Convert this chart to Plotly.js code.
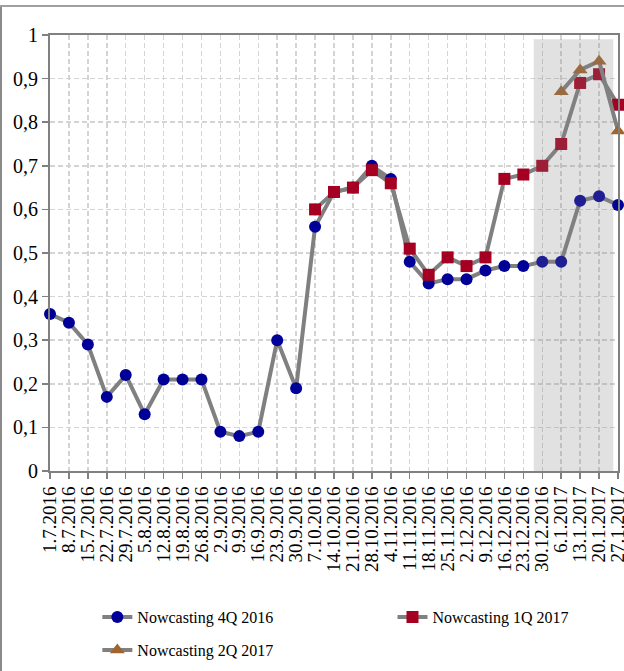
<!DOCTYPE html>
<html>
<head>
<meta charset="utf-8">
<script src="https://cdn.plot.ly/plotly-3.0.1.min.js"></script>
<style>
  html, body { margin: 0; padding: 0; background: #ffffff; }
  #wrap { position: relative; width: 624px; height: 671px; overflow: hidden; }
  #chart { position: absolute; left: 0; top: 0; width: 624px; height: 671px; }
  .frameL { position: absolute; left: 0; top: 5px; width: 2px; height: 666px; background: #8a8a8a; }
  .frameT { position: absolute; left: 0; top: 5px; width: 624px; height: 2px; background: #a0a0a0; }
</style>
</head>
<body>
<div id="wrap">
  <div id="chart"></div>
  <div class="frameL"></div>
  <div class="frameT"></div>
</div>
<script>
// ---- data ----
var dates = ["1.7.2016","8.7.2016","15.7.2016","22.7.2016","29.7.2016","5.8.2016","12.8.2016",
  "19.8.2016","26.8.2016","2.9.2016","9.9.2016","16.9.2016","23.9.2016","30.9.2016","7.10.2016",
  "14.10.2016","21.10.2016","28.10.2016","4.11.2016","11.11.2016","18.11.2016","25.11.2016",
  "2.12.2016","9.12.2016","16.12.2016","23.12.2016","30.12.2016","6.1.2017","13.1.2017",
  "20.1.2017","27.1.2017"];

var now4Q2016 = [0.36,0.34,0.29,0.17,0.22,0.13,0.21,0.21,0.21,0.09,0.08,0.09,0.30,0.19,0.56,
  0.64,0.65,0.70,0.67,0.48,0.43,0.44,0.44,0.46,0.47,0.47,0.48,0.48,0.62,0.63,0.61];

var dates1Q2017 = ["7.10.2016","14.10.2016","21.10.2016","28.10.2016","4.11.2016","11.11.2016",
  "18.11.2016","25.11.2016","2.12.2016","9.12.2016","16.12.2016","23.12.2016","30.12.2016",
  "6.1.2017","13.1.2017","20.1.2017","27.1.2017"];
var now1Q2017 = [0.60,0.64,0.65,0.69,0.66,0.51,0.45,0.49,0.47,0.49,0.67,0.68,0.70,0.75,0.89,0.91,0.84];

var dates2Q2017 = ["6.1.2017","13.1.2017","20.1.2017","27.1.2017"];
var now2Q2017 = [0.87,0.92,0.94,0.78];

var seriesNames = ["Nowcasting 4Q 2016","Nowcasting 1Q 2017","Nowcasting 2Q 2017"];
var yTicks = [0,0.1,0.2,0.3,0.4,0.5,0.6,0.7,0.8,0.9,1];

// ---- styles ----
var serif = "Liberation Serif";
var lineGray = "#808080";

function idx(d) { return dates.indexOf(d); }

var traces = [
  {
    x: dates, y: now4Q2016, name: seriesNames[0], type: "scatter", mode: "lines+markers",
    line: {color: lineGray, width: 4},
    marker: {symbol: "circle", size: 12, color: "#000099"},
    cliponaxis: false, legend: "legend"
  },
  {
    x: dates1Q2017, y: now1Q2017, name: seriesNames[1], type: "scatter", mode: "lines+markers",
    line: {color: lineGray, width: 4},
    marker: {symbol: "square", size: 12, color: "#A50021"},
    cliponaxis: false, legend: "legend2"
  },
  {
    x: dates2Q2017, y: now2Q2017, name: seriesNames[2], type: "scatter", mode: "lines+markers",
    line: {color: lineGray, width: 4},
    marker: {symbol: "triangle-up", size: 13, color: "#A0652E"},
    cliponaxis: false, legend: "legend3"
  }
];

var legendBase = {
  orientation: "h", xanchor: "left", yanchor: "middle",
  xref: "container", yref: "container",
  font: {family: serif, size: 16, color: "#000000"},
  bgcolor: "rgba(0,0,0,0)", borderwidth: 0
};

var layout = {
  width: 624, height: 671,
  margin: {l: 50, r: 6, t: 35, b: 200, pad: 0, autoexpand: false},
  paper_bgcolor: "#ffffff", plot_bgcolor: "#ffffff",
  separators: ", ",
  showlegend: true,
  font: {family: serif, size: 20, color: "#000000"},
  xaxis: {
    type: "category",
    categoryorder: "array", categoryarray: dates,
    range: [0, dates.length - 1],
    tickmode: "array", tickvals: dates, ticktext: dates,
    tickangle: -90,
    ticks: "outside", ticklen: 6, tickwidth: 1.5, tickcolor: lineGray,
    showline: true, linecolor: lineGray, linewidth: 2, mirror: true,
    showgrid: true, gridcolor: "#d4d4d4", gridwidth: 1.5, griddash: "5px,3px",
    tickfont: {family: serif, size: 19, color: "#000000"},
    fixedrange: true
  },
  yaxis: {
    range: [0, 1],
    tickmode: "array", tickvals: yTicks,
    ticktext: yTicks.map(function(v){ return v === 0 ? "0" : (v === 1 ? "1" : v.toFixed(1).replace(".", ",")); }),
    ticks: "outside", ticklen: 6, tickwidth: 1.5, tickcolor: lineGray,
    showline: true, linecolor: lineGray, linewidth: 2, mirror: true,
    showgrid: true, gridcolor: "#d4d4d4", gridwidth: 1.5, griddash: "5px,3px",
    zeroline: false,
    tickfont: {family: serif, size: 20, color: "#000000"},
    fixedrange: true
  },
  shapes: [{
    type: "rect", xref: "x", yref: "y", layer: "above",
    x0: idx("30.12.2016") - 0.45, x1: idx("27.1.2017") - 0.25,
    y0: 0, y1: 0.99,
    fillcolor: "rgba(128,128,128,0.24)", line: {width: 0}
  }],
  legend: Object.assign({}, legendBase, {x: 0.156, y: 0.0805}),
  legend2: Object.assign({}, legendBase, {x: 0.629, y: 0.0805}),
  legend3: Object.assign({}, legendBase, {x: 0.156, y: 0.0313})
};

Plotly.newPlot("chart", traces, layout, {displayModeBar: false, staticPlot: true});
</script>
</body>
</html>
